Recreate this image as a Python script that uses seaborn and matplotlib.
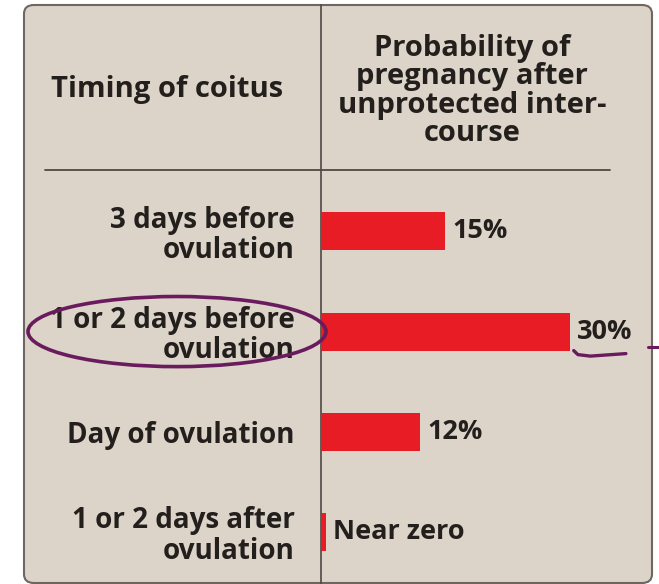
import pandas as pd
import seaborn as sns
import matplotlib.pyplot as plt
from matplotlib.patches import FancyBboxPatch, Ellipse
from matplotlib.lines import Line2D
import matplotlib.transforms as mtransforms

# data
timing = [
    "3 days before\novulation",
    "1 or 2 days before\novulation",
    "Day of ovulation",
    "1 or 2 days after\novulation",
]
probability = [15, 30, 12, 0.6]
value_labels = ["15%", "30%", "12%", "Near zero"]

df = pd.DataFrame({"timing": timing, "probability": probability})

sns.set_theme(style="white")
plt.rcParams["font.family"] = ["Open Sans", "DejaVu Sans"]

W, H = 659, 584
bg = "#dcd3c9"
ink = "#231f1c"
rule = "#4f4843"
red = "#e81c24"
purple = "#6a1b5e"

fig = plt.figure(figsize=(W / 100, H / 100), dpi=100)
fig.patch.set_facecolor("white")

# rounded panel behind everything
panel = FancyBboxPatch((24 / W, 1 - 583 / H), (652 - 24) / W, (583 - 5) / H,
                       boxstyle="round,pad=0,rounding_size=0.015",
                       transform=fig.transFigure, facecolor=bg,
                       edgecolor="#6e6660", linewidth=1.5, zorder=0)
fig.add_artist(panel)

ax = fig.add_axes([321 / W, 1 - 583 / H, (611 - 321) / W, (583 - 5) / H])
ax.set_facecolor("none")

sns.barplot(data=df, x="probability", y="timing", orient="h",
            color=red, saturation=1, width=0.38, linewidth=0, ax=ax, zorder=3)

ax.set_xlim(0, 35)
ax.set_ylim(3.51, -2.26)
ax.set_xlabel("")
ax.set_ylabel("")
ax.set_xticks([])
for s in ["top", "right", "bottom"]:
    ax.spines[s].set_visible(False)
ax.spines["left"].set_color(rule)
ax.spines["left"].set_linewidth(1.2)
ax.tick_params(axis="y", length=0, pad=19)
for lab in ax.get_yticklabels():
    lab.set_fontsize(20)
    lab.set_fontweight("bold")
    lab.set_color(ink)
    lab.set_multialignment("right")
    lab.set_linespacing(1.06)

for i, (v, t) in enumerate(zip(probability, value_labels)):
    ax.text(v + 0.85, i, t, ha="left", va="center", fontsize=19.5,
            fontweight="bold", color=ink, zorder=4)

# headers
ax.text(-0.531, 0.853, "Timing of coitus", transform=ax.transAxes,
        ha="center", va="center", fontsize=21, fontweight="bold", color=ink)
ax.text(0.52, 0.851,
        "Probability of\npregnancy after\nunprotected inter-\ncourse",
        transform=ax.transAxes, ha="center", va="center", fontsize=21,
        fontweight="bold", color=ink, linespacing=0.97)

# horizontal rule under the header
fig.add_artist(Line2D([45 / W, 610 / W], [1 - 170 / H, 1 - 170 / H],
                      transform=fig.transFigure, color=rule, linewidth=1.3))

# hand-drawn purple marks
trans = mtransforms.blended_transform_factory(fig.transFigure, ax.transData)
ax.add_patch(Ellipse((177 / W, 1.0), 298 / W, 0.70, transform=trans,
                     fill=False, edgecolor=purple, linewidth=2.6,
                     clip_on=False, zorder=5))
ax.plot([30.5, 31.0, 32.5, 36.8], [1.19, 1.23, 1.245, 1.22], color=purple,
        linewidth=2.4, clip_on=False, solid_capstyle="round", zorder=5)
ax.add_line(Line2D([648 / W, 659 / W], [1.15, 1.15], transform=trans,
                   color=purple, linewidth=2.2, clip_on=False))

plt.savefig("out.png", dpi=100, facecolor="white")
